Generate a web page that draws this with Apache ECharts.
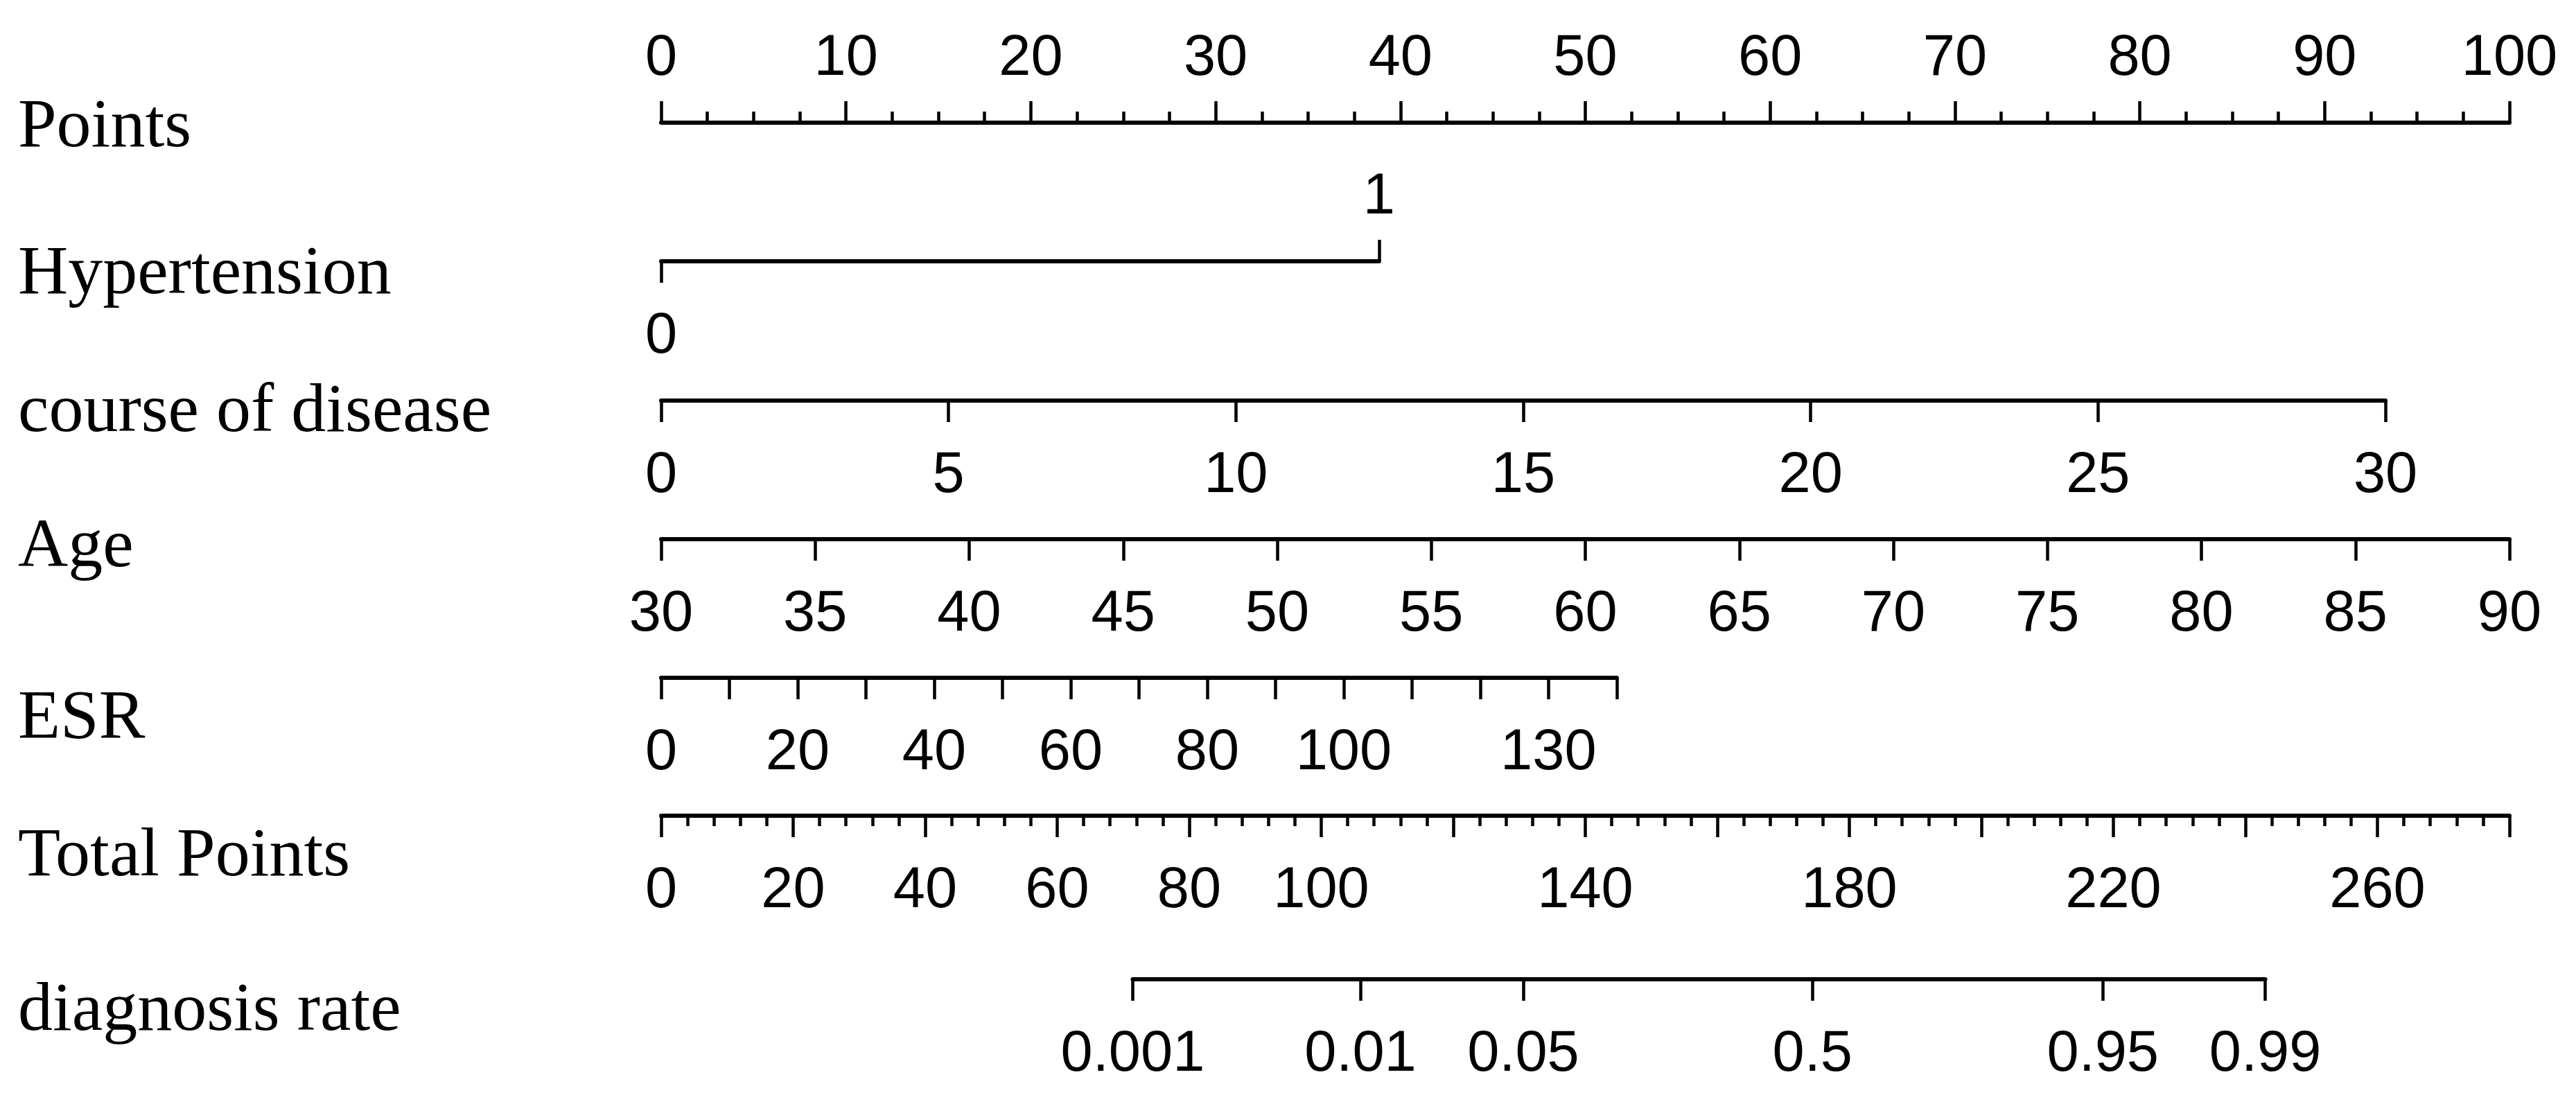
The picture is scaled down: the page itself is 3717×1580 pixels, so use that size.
<!DOCTYPE html>
<html>
<head>
<meta charset="utf-8">
<script src="https://cdn.jsdelivr.net/npm/echarts@6/dist/echarts.min.js"></script>
<style>html,body{margin:0;padding:0;background:#fff}#c{width:3717px;height:1580px}</style>
</head>
<body>
<div id="c"></div>
<script>
// ---------------- data ----------------
const rowLabels = ['Points', 'Hypertension', 'course of disease', 'Age', 'ESR', 'Total Points', 'diagnosis rate'];

const pointsRange = [0, 100];
const pointsLabels = [0, 10, 20, 30, 40, 50, 60, 70, 80, 90, 100];

const hypertensionValues = [0, 1];
const hypertensionPoints = [0, 38.84];

const courseRange = [0, 30];
const coursePoints = [0, 93.29];
const courseLabels = [0, 5, 10, 15, 20, 25, 30];

const ageRange = [30, 90];
const agePoints = [0, 100];
const ageLabels = [30, 35, 40, 45, 50, 55, 60, 65, 70, 75, 80, 85, 90];

const esrRange = [0, 140];
const esrPoints = [0, 51.7];
const esrTicks = [0, 10, 20, 30, 40, 50, 60, 70, 80, 90, 100, 110, 120, 130, 140];
const esrLabels = [0, 20, 40, 60, 80, 100, 130];

const totalRange = [0, 280];
const totalLabels = [0, 20, 40, 60, 80, 100, 140, 180, 220, 260];

const diagLabels = ['0.001', '0.01', '0.05', '0.5', '0.95', '0.99'];
const diagTotalPoints = [71.44, 105.93, 130.6, 174.4, 218.4, 243.0];

// ---------------- layout ----------------
const plotLeft = 954, plotWidth = 2667;
const rowY = [177, 377, 578, 778, 978, 1177, 1413];
const rowLabelY = [185, 397, 596, 791, 1038, 1237, 1460];
const black = '#000';
const marginBelow = 68, marginAbove = 50;
const labelFont = { fontFamily: 'Liberation Sans', fontSize: 83, color: black };
const pts2px = p => plotLeft + (p - pointsRange[0]) / (pointsRange[1] - pointsRange[0]) * plotWidth;
const tot2px = t => plotLeft + (t - totalRange[0]) / (totalRange[1] - totalRange[0]) * plotWidth;

const grids = [], xAxes = [], yAxes = [];
function addGrid(leftPx, rightPx, y, pos) {
  const idx = grids.length;
  grids.push({ left: leftPx, width: rightPx - leftPx, top: pos === 'top' ? y : y - 1, height: 1,
               outerBoundsMode: 'none', containLabel: false });
  yAxes.push({ gridIndex: idx, show: false, min: 0, max: 1 });
  return idx;
}
function axis(gridIndex, pos, min, max, opts) {
  const o = Object.assign({
    type: 'value', gridIndex, position: pos, min, max,
    splitLine: { show: false },
    axisLine: { show: true, onZero: false, lineStyle: { color: black, width: 6 } },
    axisTick: { show: true, length: 31, lineStyle: { color: black, width: 4.5 } },
    axisLabel: Object.assign({ show: true, margin: pos === 'top' ? marginAbove : marginBelow, showMinLabel: true, showMaxLabel: true }, labelFont)
  }, opts || {});
  xAxes.push(o);
  return o;
}

// Points
let g = addGrid(pts2px(pointsRange[0]), pts2px(pointsRange[1]), rowY[0], 'top');
axis(g, 'top', pointsRange[0], pointsRange[1], {
  interval: 10,
  minorTick: { show: true, splitNumber: 4, length: 16, lineStyle: { color: black, width: 4.5 } },
  axisLabel: Object.assign({ margin: marginAbove, customValues: pointsLabels }, labelFont)
});

// Hypertension: 0 below, 1 above
g = addGrid(pts2px(hypertensionPoints[0]), pts2px(hypertensionPoints[1]), rowY[1], 'bottom');
axis(g, 'bottom', hypertensionValues[0], hypertensionValues[1], {
  axisTick: { show: true, length: 31, customValues: [hypertensionValues[0]], lineStyle: { color: black, width: 4.5 } },
  axisLabel: Object.assign({ margin: marginBelow, customValues: [hypertensionValues[0]] }, labelFont)
});
axis(g, 'top', hypertensionValues[0], hypertensionValues[1], {
  axisLine: { show: false },
  axisTick: { show: true, length: 31, customValues: [hypertensionValues[1]], lineStyle: { color: black, width: 4.5 } },
  axisLabel: Object.assign({ margin: marginAbove - 1, customValues: [hypertensionValues[1]] }, labelFont)
});

// course of disease
g = addGrid(pts2px(coursePoints[0]), pts2px(coursePoints[1]), rowY[2], 'bottom');
axis(g, 'bottom', courseRange[0], courseRange[1], {
  axisTick: { show: true, length: 31, customValues: courseLabels, lineStyle: { color: black, width: 4.5 } },
  axisLabel: Object.assign({ margin: marginBelow, customValues: courseLabels }, labelFont)
});

// Age
g = addGrid(pts2px(agePoints[0]), pts2px(agePoints[1]), rowY[3], 'bottom');
axis(g, 'bottom', ageRange[0], ageRange[1], {
  axisTick: { show: true, length: 31, customValues: ageLabels, lineStyle: { color: black, width: 4.5 } },
  axisLabel: Object.assign({ margin: marginBelow, customValues: ageLabels }, labelFont)
});

// ESR
g = addGrid(pts2px(esrPoints[0]), pts2px(esrPoints[1]), rowY[4], 'bottom');
axis(g, 'bottom', esrRange[0], esrRange[1], {
  axisTick: { show: true, length: 31, customValues: esrTicks, lineStyle: { color: black, width: 4.5 } },
  axisLabel: Object.assign({ margin: marginBelow, customValues: esrLabels }, labelFont)
});

// Total Points
g = addGrid(tot2px(totalRange[0]), tot2px(totalRange[1]), rowY[5], 'bottom');
axis(g, 'bottom', totalRange[0], totalRange[1], {
  interval: 20,
  minorTick: { show: true, splitNumber: 5, length: 15, lineStyle: { color: black, width: 4.5 } },
  axisLabel: Object.assign({ margin: marginBelow, customValues: totalLabels }, labelFont)
});

// diagnosis rate (positioned on the Total Points scale)
const dMin = diagTotalPoints[0], dMax = diagTotalPoints[diagTotalPoints.length - 1];
g = addGrid(tot2px(dMin), tot2px(dMax), rowY[6], 'bottom');
axis(g, 'bottom', dMin, dMax, {
  axisTick: { show: true, length: 31, customValues: diagTotalPoints, lineStyle: { color: black, width: 4.5 } },
  axisLabel: Object.assign({
    margin: marginBelow, customValues: diagTotalPoints,
    formatter: v => {
      let best = 0;
      diagTotalPoints.forEach((t, i) => { if (Math.abs(t - v) < Math.abs(diagTotalPoints[best] - v)) best = i; });
      return diagLabels[best];
    }
  }, labelFont)
});

const graphics = rowLabels.map((t, i) => ({
  type: 'text', x: 26, y: rowLabelY[i], silent: true,
  style: { text: t, font: '100px "Liberation Serif"', fill: black, verticalAlign: 'middle', align: 'left' }
}));

const chart = echarts.init(document.getElementById('c'), null, { renderer: 'canvas' });
chart.setOption({
  backgroundColor: '#fff',
  animation: false,
  grid: grids,
  xAxis: xAxes,
  yAxis: yAxes,
  series: [],
  graphic: graphics
});
</script>
</body>
</html>
